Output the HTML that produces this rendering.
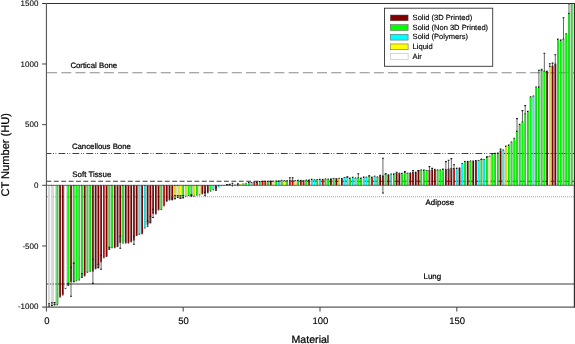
<!DOCTYPE html>
<html><head><meta charset="utf-8"><title>CT Number by Material</title>
<style>
html,body{margin:0;padding:0;background:#fff;}
body{width:575px;height:344px;overflow:hidden;}
svg{display:block;text-rendering:geometricPrecision;}
</style></head><body>
<svg width="575" height="344" viewBox="0 0 575 344">
<defs><clipPath id="pc"><rect x="46.4" y="3.4" width="528.1" height="303.4"/></clipPath></defs>
<line x1="47.1" y1="72.75" x2="574.5" y2="72.75" stroke="#8a8a8a" stroke-width="1.1" stroke-dasharray="10 4.206"/>
<line x1="47" y1="153.55" x2="574.5" y2="153.55" stroke="#404040" stroke-width="1.1" stroke-dasharray="6.8 1.8 0.8 1.5 0.8 2.2" stroke-dashoffset="2.4"/>
<line x1="46.4" y1="181.3" x2="574.5" y2="181.3" stroke="#383838" stroke-width="1.1" stroke-dasharray="4.9 2.5"/>
<line x1="47" y1="196.8" x2="574.5" y2="196.8" stroke="#a0a0a0" stroke-width="1" stroke-dasharray="1 1"/>
<line x1="47" y1="284" x2="574.5" y2="284" stroke="#7c7c7c" stroke-width="1.3"/>
<g clip-path="url(#pc)" stroke="#000" stroke-width="0.15">
<rect x="48.34" y="185.3" width="1.6" height="120.9" fill="#ffffff"/>
<rect x="51.07" y="185.3" width="1.6" height="120.2" fill="#ffffff"/>
<rect x="53.81" y="185.3" width="1.6" height="119.2" fill="#ffffff"/>
<rect x="56.54" y="185.3" width="1.6" height="119.2" fill="#00ff00"/>
<rect x="59.28" y="185.3" width="1.6" height="111.5" fill="#800000"/>
<rect x="62.02" y="185.3" width="1.6" height="109.4" fill="#800000"/>
<rect x="64.75" y="185.3" width="1.6" height="102.8" fill="#ffffff"/>
<rect x="67.49" y="185.3" width="1.6" height="99" fill="#00ff00"/>
<rect x="70.22" y="185.3" width="1.6" height="96.1" fill="#800000"/>
<rect x="72.96" y="185.3" width="1.6" height="95.9" fill="#00ff00"/>
<rect x="75.7" y="185.3" width="1.6" height="95.2" fill="#00ff00"/>
<rect x="78.43" y="185.3" width="1.6" height="94.4" fill="#00ff00"/>
<rect x="81.17" y="185.3" width="1.6" height="91.4" fill="#00ff00"/>
<rect x="83.9" y="185.3" width="1.6" height="90.3" fill="#800000"/>
<rect x="86.64" y="185.3" width="1.6" height="86.7" fill="#00ff00"/>
<rect x="89.38" y="185.3" width="1.6" height="85.6" fill="#00ff00"/>
<rect x="92.11" y="185.3" width="1.6" height="85.6" fill="#800000"/>
<rect x="94.85" y="185.3" width="1.6" height="83.3" fill="#800000"/>
<rect x="97.58" y="185.3" width="1.6" height="82.1" fill="#800000"/>
<rect x="100.32" y="185.3" width="1.6" height="76.2" fill="#800000"/>
<rect x="103.06" y="185.3" width="1.6" height="72.2" fill="#e00000"/>
<rect x="105.79" y="185.3" width="1.6" height="70.9" fill="#800000"/>
<rect x="108.53" y="185.3" width="1.6" height="63.3" fill="#00ff00"/>
<rect x="111.26" y="185.3" width="1.6" height="62.1" fill="#00ff00"/>
<rect x="114" y="185.3" width="1.6" height="62.1" fill="#800000"/>
<rect x="116.74" y="185.3" width="1.6" height="61" fill="#800000"/>
<rect x="119.47" y="185.3" width="1.6" height="56.9" fill="#800000"/>
<rect x="122.21" y="185.3" width="1.6" height="57.5" fill="#00ff00"/>
<rect x="124.94" y="185.3" width="1.6" height="57.5" fill="#800000"/>
<rect x="127.68" y="185.3" width="1.6" height="57.5" fill="#800000"/>
<rect x="130.42" y="185.3" width="1.6" height="56.3" fill="#800000"/>
<rect x="133.15" y="185.3" width="1.6" height="54.6" fill="#800000"/>
<rect x="135.89" y="185.3" width="1.6" height="49.9" fill="#800000"/>
<rect x="138.62" y="185.3" width="1.6" height="48.7" fill="#00ffff"/>
<rect x="141.36" y="185.3" width="1.6" height="48.2" fill="#800000"/>
<rect x="144.1" y="185.3" width="1.6" height="42.4" fill="#00ffff"/>
<rect x="146.83" y="185.3" width="1.6" height="38.9" fill="#800000"/>
<rect x="149.57" y="185.3" width="1.6" height="37.1" fill="#800000"/>
<rect x="152.3" y="185.3" width="1.6" height="27.8" fill="#800000"/>
<rect x="155.04" y="185.3" width="1.6" height="28.4" fill="#800000"/>
<rect x="157.78" y="185.3" width="1.6" height="24.4" fill="#800000"/>
<rect x="160.51" y="185.3" width="1.6" height="23.9" fill="#00ff00"/>
<rect x="163.25" y="185.3" width="1.6" height="20.2" fill="#e00000"/>
<rect x="165.98" y="185.3" width="1.6" height="15.7" fill="#800000"/>
<rect x="168.72" y="185.3" width="1.6" height="14.4" fill="#800000"/>
<rect x="171.46" y="185.3" width="1.6" height="14" fill="#800000"/>
<rect x="174.19" y="185.3" width="1.6" height="13.1" fill="#ffff00"/>
<rect x="176.93" y="185.3" width="1.6" height="11.8" fill="#ffff00"/>
<rect x="179.66" y="185.3" width="1.6" height="12.7" fill="#ffff00"/>
<rect x="182.4" y="185.3" width="1.6" height="12.2" fill="#00ff00"/>
<rect x="185.14" y="185.3" width="1.6" height="10.5" fill="#ffff00"/>
<rect x="187.87" y="185.3" width="1.6" height="10" fill="#00ff00"/>
<rect x="190.61" y="185.3" width="1.6" height="10.5" fill="#00ff00"/>
<rect x="193.34" y="185.3" width="1.6" height="10.5" fill="#ffff00"/>
<rect x="196.08" y="185.3" width="1.6" height="9.6" fill="#00ff00"/>
<rect x="198.82" y="185.3" width="1.6" height="9.4" fill="#ffff00"/>
<rect x="201.55" y="185.3" width="1.6" height="8.3" fill="#800000"/>
<rect x="204.29" y="185.3" width="1.6" height="8.3" fill="#800000"/>
<rect x="207.02" y="185.3" width="1.6" height="7.3" fill="#800000"/>
<rect x="209.76" y="185.3" width="1.6" height="5.5" fill="#00ff00"/>
<rect x="212.5" y="185.3" width="1.6" height="4.1" fill="#00ffff"/>
<rect x="215.23" y="185.3" width="1.6" height="4.2" fill="#800000"/>
<rect x="217.97" y="185.3" width="1.6" height="1.9" fill="#00ffff"/>
<rect x="220.7" y="185.3" width="1.6" height="0.7" fill="#00ffff"/>
<rect x="223.44" y="185.3" width="1.6" height="0.5" fill="#800000"/>
<rect x="226.18" y="184.9" width="1.6" height="0.4" fill="#00ff00"/>
<rect x="228.91" y="184.8" width="1.6" height="0.5" fill="#800000"/>
<rect x="231.65" y="185.2" width="1.6" height="0.3" fill="#800000"/>
<rect x="234.38" y="184.6" width="1.6" height="0.7" fill="#ffff00"/>
<rect x="237.12" y="184.5" width="1.6" height="0.8" fill="#800000"/>
<rect x="239.86" y="184.3" width="1.6" height="1" fill="#ffff00"/>
<rect x="242.59" y="183.7" width="1.6" height="1.6" fill="#00ff00"/>
<rect x="245.33" y="183" width="1.6" height="2.3" fill="#00ff00"/>
<rect x="248.06" y="182.7" width="1.6" height="2.6" fill="#00ff00"/>
<rect x="250.8" y="182.8" width="1.6" height="2.5" fill="#00ffff"/>
<rect x="253.54" y="182.4" width="1.6" height="2.9" fill="#e00000"/>
<rect x="256.27" y="182.1" width="1.6" height="3.2" fill="#e00000"/>
<rect x="259.01" y="181.8" width="1.6" height="3.5" fill="#00ff00"/>
<rect x="261.74" y="181.8" width="1.6" height="3.5" fill="#e00000"/>
<rect x="264.48" y="181.5" width="1.6" height="3.8" fill="#e00000"/>
<rect x="267.22" y="181.5" width="1.6" height="3.8" fill="#00ff00"/>
<rect x="269.95" y="181.5" width="1.6" height="3.8" fill="#800000"/>
<rect x="272.69" y="181.5" width="1.6" height="3.8" fill="#ffff00"/>
<rect x="275.42" y="181.2" width="1.6" height="4.1" fill="#00ff00"/>
<rect x="278.16" y="181.2" width="1.6" height="4.1" fill="#00ffff"/>
<rect x="280.9" y="180.6" width="1.6" height="4.7" fill="#00ff00"/>
<rect x="283.63" y="181" width="1.6" height="4.3" fill="#ffff00"/>
<rect x="286.37" y="181" width="1.6" height="4.3" fill="#00ff00"/>
<rect x="289.1" y="180.7" width="1.6" height="4.6" fill="#e00000"/>
<rect x="291.84" y="180.7" width="1.6" height="4.6" fill="#e00000"/>
<rect x="294.58" y="181" width="1.6" height="4.3" fill="#ffff00"/>
<rect x="297.31" y="180.5" width="1.6" height="4.8" fill="#00ff00"/>
<rect x="300.05" y="180.7" width="1.6" height="4.6" fill="#e00000"/>
<rect x="302.78" y="180.9" width="1.6" height="4.4" fill="#e00000"/>
<rect x="305.52" y="180.3" width="1.6" height="5" fill="#00ff00"/>
<rect x="308.26" y="180.1" width="1.6" height="5.2" fill="#e00000"/>
<rect x="310.99" y="179.5" width="1.6" height="5.8" fill="#00ffff"/>
<rect x="313.73" y="180" width="1.6" height="5.3" fill="#00ffff"/>
<rect x="316.46" y="179.8" width="1.6" height="5.5" fill="#00ff00"/>
<rect x="319.2" y="179.4" width="1.6" height="5.9" fill="#00ffff"/>
<rect x="321.94" y="179.7" width="1.6" height="5.6" fill="#e00000"/>
<rect x="324.67" y="179.1" width="1.6" height="6.2" fill="#00ff00"/>
<rect x="327.41" y="179.3" width="1.6" height="6" fill="#00ff00"/>
<rect x="330.14" y="179" width="1.6" height="6.3" fill="#800000"/>
<rect x="332.88" y="178.7" width="1.6" height="6.6" fill="#00ff00"/>
<rect x="335.62" y="178.9" width="1.6" height="6.4" fill="#800000"/>
<rect x="338.35" y="178.6" width="1.6" height="6.7" fill="#ffff00"/>
<rect x="341.09" y="178.8" width="1.6" height="6.5" fill="#800000"/>
<rect x="343.82" y="177.8" width="1.6" height="7.5" fill="#00ffff"/>
<rect x="346.56" y="177.5" width="1.6" height="7.8" fill="#00ffff"/>
<rect x="349.3" y="178.3" width="1.6" height="7" fill="#00ff00"/>
<rect x="352.03" y="177.5" width="1.6" height="7.8" fill="#00ffff"/>
<rect x="354.77" y="178.2" width="1.6" height="7.1" fill="#00ffff"/>
<rect x="357.5" y="178" width="1.6" height="7.3" fill="#00ff00"/>
<rect x="360.24" y="178.2" width="1.6" height="7.1" fill="#00ff00"/>
<rect x="362.98" y="177.1" width="1.6" height="8.2" fill="#00ffff"/>
<rect x="365.71" y="177.4" width="1.6" height="7.9" fill="#00ffff"/>
<rect x="368.45" y="176.4" width="1.6" height="8.9" fill="#00ff00"/>
<rect x="371.18" y="177.4" width="1.6" height="7.9" fill="#e00000"/>
<rect x="373.92" y="176.4" width="1.6" height="8.9" fill="#00ffff"/>
<rect x="376.66" y="177.1" width="1.6" height="8.2" fill="#00ff00"/>
<rect x="379.39" y="176.3" width="1.6" height="9" fill="#800000"/>
<rect x="382.13" y="176" width="1.6" height="9.3" fill="#800000"/>
<rect x="384.86" y="174.2" width="1.6" height="11.1" fill="#00ff00"/>
<rect x="387.6" y="175" width="1.6" height="10.3" fill="#800000"/>
<rect x="390.34" y="174.2" width="1.6" height="11.1" fill="#00ffff"/>
<rect x="393.07" y="174" width="1.6" height="11.3" fill="#00ff00"/>
<rect x="395.81" y="173.6" width="1.6" height="11.7" fill="#800000"/>
<rect x="398.54" y="173.4" width="1.6" height="11.9" fill="#800000"/>
<rect x="401.28" y="173.6" width="1.6" height="11.7" fill="#00ff00"/>
<rect x="404.02" y="172.7" width="1.6" height="12.6" fill="#00ff00"/>
<rect x="406.75" y="173.4" width="1.6" height="11.9" fill="#00ff00"/>
<rect x="409.49" y="173.1" width="1.6" height="12.2" fill="#800000"/>
<rect x="412.22" y="172.6" width="1.6" height="12.7" fill="#800000"/>
<rect x="414.96" y="172.4" width="1.6" height="12.9" fill="#800000"/>
<rect x="417.7" y="170.8" width="1.6" height="14.5" fill="#800000"/>
<rect x="420.43" y="170.1" width="1.6" height="15.2" fill="#00ff00"/>
<rect x="423.17" y="170.1" width="1.6" height="15.2" fill="#00ff00"/>
<rect x="425.9" y="170.8" width="1.6" height="14.5" fill="#00ff00"/>
<rect x="428.64" y="170.8" width="1.6" height="14.5" fill="#e00000"/>
<rect x="431.38" y="170.1" width="1.6" height="15.2" fill="#800000"/>
<rect x="434.11" y="169.6" width="1.6" height="15.7" fill="#800000"/>
<rect x="436.85" y="170.1" width="1.6" height="15.2" fill="#00ff00"/>
<rect x="439.58" y="170.1" width="1.6" height="15.2" fill="#00ff00"/>
<rect x="442.32" y="169.2" width="1.6" height="16.1" fill="#00ff00"/>
<rect x="445.06" y="169.8" width="1.6" height="15.5" fill="#800000"/>
<rect x="447.79" y="169.2" width="1.6" height="16.1" fill="#800000"/>
<rect x="450.53" y="168.6" width="1.6" height="16.7" fill="#800000"/>
<rect x="453.26" y="168.8" width="1.6" height="16.5" fill="#e00000"/>
<rect x="456" y="168.4" width="1.6" height="16.9" fill="#00ffff"/>
<rect x="458.74" y="168.1" width="1.6" height="17.2" fill="#800000"/>
<rect x="461.47" y="163.9" width="1.6" height="21.4" fill="#00ffff"/>
<rect x="464.21" y="161.7" width="1.6" height="23.6" fill="#00ff00"/>
<rect x="466.94" y="161.7" width="1.6" height="23.6" fill="#800000"/>
<rect x="469.68" y="161.2" width="1.6" height="24.1" fill="#00ff00"/>
<rect x="472.42" y="161.1" width="1.6" height="24.2" fill="#800000"/>
<rect x="475.15" y="160.9" width="1.6" height="24.4" fill="#800000"/>
<rect x="477.89" y="160.8" width="1.6" height="24.5" fill="#00ffff"/>
<rect x="480.62" y="159.6" width="1.6" height="25.7" fill="#00ff00"/>
<rect x="483.36" y="159.9" width="1.6" height="25.4" fill="#00ffff"/>
<rect x="486.1" y="157.3" width="1.6" height="28" fill="#00ff00"/>
<rect x="488.83" y="156.5" width="1.6" height="28.8" fill="#ffff00"/>
<rect x="491.57" y="154.2" width="1.6" height="31.1" fill="#00ff00"/>
<rect x="494.3" y="153.6" width="1.6" height="31.7" fill="#00ff00"/>
<rect x="497.04" y="153.2" width="1.6" height="32.1" fill="#00ff00"/>
<rect x="499.78" y="151" width="1.6" height="34.3" fill="#800000"/>
<rect x="502.51" y="150.1" width="1.6" height="35.2" fill="#00ffff"/>
<rect x="505.25" y="146.3" width="1.6" height="39" fill="#ffff00"/>
<rect x="507.98" y="145.1" width="1.6" height="40.2" fill="#00ff00"/>
<rect x="510.72" y="142.2" width="1.6" height="43.1" fill="#00ff00"/>
<rect x="513.46" y="138.5" width="1.6" height="46.8" fill="#00ff00"/>
<rect x="516.19" y="131.4" width="1.6" height="53.9" fill="#00ff00"/>
<rect x="518.93" y="124.6" width="1.6" height="60.7" fill="#00ff00"/>
<rect x="521.66" y="122" width="1.6" height="63.3" fill="#00ff00"/>
<rect x="524.4" y="114" width="1.6" height="71.3" fill="#00ff00"/>
<rect x="527.14" y="111.5" width="1.6" height="73.8" fill="#00ff00"/>
<rect x="529.87" y="97" width="1.6" height="88.3" fill="#00ff00"/>
<rect x="532.61" y="96.2" width="1.6" height="89.1" fill="#00ffff"/>
<rect x="535.34" y="87.1" width="1.6" height="98.2" fill="#00ff00"/>
<rect x="538.08" y="87.1" width="1.6" height="98.2" fill="#00ff00"/>
<rect x="540.82" y="70.7" width="1.6" height="114.6" fill="#00ff00"/>
<rect x="543.55" y="71.4" width="1.6" height="113.9" fill="#00ff00"/>
<rect x="546.29" y="71.4" width="1.6" height="113.9" fill="#800000"/>
<rect x="549.02" y="66.8" width="1.6" height="118.5" fill="#ffff00"/>
<rect x="551.76" y="66.1" width="1.6" height="119.2" fill="#800000"/>
<rect x="554.5" y="64.2" width="1.6" height="121.1" fill="#800000"/>
<rect x="557.23" y="39.3" width="1.6" height="146" fill="#00ff00"/>
<rect x="559.97" y="40.1" width="1.6" height="145.2" fill="#00ff00"/>
<rect x="562.7" y="39.3" width="1.6" height="146" fill="#00ff00"/>
<rect x="565.44" y="34" width="1.6" height="151.3" fill="#00ff00"/>
<rect x="568.18" y="13.7" width="1.6" height="171.6" fill="#00ff00"/>
<rect x="570.91" y="-5" width="1.6" height="190.3" fill="#00ff00"/>
</g>
<path clip-path="url(#pc)" d="M48.39 306.55h1.5M51.12 305.85h1.5M53.86 304.85h1.5M56.59 304.85h1.5M59.33 297.15h1.5M62.07 295.05h1.5M64.8 288.45h1.5M67.54 284.65h1.5M70.27 281.75h1.5M73.01 281.55h1.5M75.75 280.85h1.5M78.48 280.05h1.5M81.22 277.05h1.5M83.95 275.95h1.5M86.69 272.35h1.5M89.43 271.25h1.5M92.16 271.25h1.5M94.9 268.95h1.5M97.63 267.75h1.5M100.37 261.85h1.5M103.11 257.85h1.5M105.84 256.55h1.5M108.58 248.95h1.5M111.31 247.75h1.5M114.05 247.75h1.5M116.79 246.65h1.5M119.52 242.55h1.5M122.26 243.15h1.5M124.99 243.15h1.5M127.73 243.15h1.5M130.47 241.95h1.5M133.2 240.25h1.5M135.94 235.55h1.5M138.67 234.35h1.5M141.41 233.85h1.5M144.15 228.05h1.5M146.88 224.55h1.5M149.62 222.75h1.5M152.35 213.45h1.5M155.09 214.05h1.5M157.83 210.05h1.5M160.56 209.55h1.5M163.3 205.85h1.5M166.03 201.35h1.5M168.77 200.05h1.5M171.51 199.65h1.5M174.24 198.75h1.5M176.98 197.45h1.5M179.71 198.35h1.5M182.45 197.85h1.5M185.19 196.15h1.5M187.92 195.65h1.5M190.66 196.15h1.5M193.39 196.15h1.5M196.13 195.25h1.5M198.87 195.05h1.5M201.6 193.95h1.5M204.34 193.95h1.5M207.07 192.95h1.5M209.81 191.15h1.5M212.55 189.75h1.5M215.28 189.85h1.5M248.11 182.35h1.5M250.85 182.45h1.5M253.59 182.05h1.5M256.32 181.75h1.5M259.06 181.45h1.5M261.79 181.45h1.5M264.53 181.15h1.5M267.27 181.15h1.5M270 181.15h1.5M272.74 181.15h1.5M275.47 180.85h1.5M278.21 180.85h1.5M280.95 180.25h1.5M283.68 180.65h1.5M286.42 180.65h1.5M289.15 180.35h1.5M291.89 180.35h1.5M294.63 180.65h1.5M297.36 180.15h1.5M300.1 180.35h1.5M302.83 180.55h1.5M305.57 179.95h1.5M308.31 179.75h1.5M311.04 179.15h1.5M313.78 179.65h1.5M316.51 179.45h1.5M319.25 179.05h1.5M321.99 179.35h1.5M324.72 178.75h1.5M327.46 178.95h1.5M330.19 178.65h1.5M332.93 178.35h1.5M335.67 178.55h1.5M338.4 178.25h1.5M341.14 178.45h1.5M343.87 177.45h1.5M346.61 177.15h1.5M349.35 177.95h1.5M352.08 177.15h1.5M354.82 177.85h1.5M357.55 177.65h1.5M360.29 177.85h1.5M363.03 176.75h1.5M365.76 177.05h1.5M368.5 176.05h1.5M371.23 177.05h1.5M373.97 176.05h1.5M376.71 176.75h1.5M379.44 175.95h1.5M382.18 175.65h1.5M384.91 173.85h1.5M387.65 174.65h1.5M390.39 173.85h1.5M393.12 173.65h1.5M395.86 173.25h1.5M398.59 173.05h1.5M401.33 173.25h1.5M404.07 172.35h1.5M406.8 173.05h1.5M409.54 172.75h1.5M412.27 172.25h1.5M415.01 172.05h1.5M417.75 170.45h1.5M420.48 169.75h1.5M423.22 169.75h1.5M425.95 170.45h1.5M428.69 170.45h1.5M431.43 169.75h1.5M434.16 169.25h1.5M436.9 169.75h1.5M439.63 169.75h1.5M442.37 168.85h1.5M445.11 169.45h1.5M447.84 168.85h1.5M450.58 168.25h1.5M453.31 168.45h1.5M456.05 168.05h1.5M458.79 167.75h1.5M461.52 163.55h1.5M464.26 161.35h1.5M466.99 161.35h1.5M469.73 160.85h1.5M472.47 160.75h1.5M475.2 160.55h1.5M477.94 160.45h1.5M480.67 159.25h1.5M483.41 159.55h1.5M486.15 156.95h1.5M488.88 156.15h1.5M491.62 153.85h1.5M494.35 153.25h1.5M497.09 152.85h1.5M499.83 150.65h1.5M502.56 149.75h1.5M505.3 145.95h1.5M508.03 144.75h1.5M510.77 141.85h1.5M513.51 138.15h1.5M516.24 131.05h1.5M518.98 124.25h1.5M521.71 121.65h1.5M524.45 113.65h1.5M527.19 111.15h1.5M529.92 96.65h1.5M532.66 95.85h1.5M535.39 86.75h1.5M538.13 86.75h1.5M540.87 70.35h1.5M543.6 71.05h1.5M546.34 71.05h1.5M549.07 66.45h1.5M551.81 65.75h1.5M554.55 63.85h1.5M557.28 38.95h1.5M560.02 39.75h1.5M562.75 38.95h1.5M565.49 33.65h1.5M568.23 13.35h1.5M570.96 -5.35h1.5" stroke="#000" stroke-width="0.9" stroke-opacity="0.8" fill="none"/>
<g clip-path="url(#pc)" stroke="#404040" stroke-width="0.8" fill="none">
<path d="M49.14 303.5V306.5"/>
<path d="M48.24 303.8h1.8M48.24 306.2h1.8" stroke="#1a1a1a" stroke-width="1.1"/>
<path d="M51.87 302.5V305.8"/>
<path d="M50.97 302.8h1.8M50.97 305.5h1.8" stroke="#1a1a1a" stroke-width="1.1"/>
<path d="M54.61 302.3V305"/>
<path d="M53.71 302.6h1.8M53.71 304.7h1.8" stroke="#1a1a1a" stroke-width="1.1"/>
<path d="M68.29 283V285.5"/>
<path d="M67.39 283.3h1.8M67.39 285.2h1.8" stroke="#1a1a1a" stroke-width="1.1"/>
<path d="M71.02 267V296.5"/>
<path d="M70.12 267.3h1.8M70.12 296.2h1.8" stroke="#1a1a1a" stroke-width="1.1"/>
<path d="M73.76 262.8V282"/>
<path d="M72.86 263.1h1.8M72.86 281.7h1.8" stroke="#1a1a1a" stroke-width="1.1"/>
<path d="M81.97 273.5V277.5"/>
<path d="M81.07 273.8h1.8M81.07 277.2h1.8" stroke="#1a1a1a" stroke-width="1.1"/>
<path d="M92.91 259V283.7"/>
<path d="M92.01 259.3h1.8M92.01 283.4h1.8" stroke="#1a1a1a" stroke-width="1.1"/>
<path d="M98.38 264V268"/>
<path d="M97.48 264.3h1.8M97.48 267.7h1.8" stroke="#1a1a1a" stroke-width="1.1"/>
<path d="M101.12 255V269.5"/>
<path d="M100.22 255.3h1.8M100.22 269.2h1.8" stroke="#1a1a1a" stroke-width="1.1"/>
<path d="M109.33 247V249.5"/>
<path d="M108.43 247.3h1.8M108.43 249.2h1.8" stroke="#1a1a1a" stroke-width="1.1"/>
<path d="M120.27 236V248.6"/>
<path d="M119.37 236.3h1.8M119.37 248.3h1.8" stroke="#1a1a1a" stroke-width="1.1"/>
<path d="M133.95 236V244.5"/>
<path d="M133.05 236.3h1.8M133.05 244.2h1.8" stroke="#1a1a1a" stroke-width="1.1"/>
<path d="M147.63 221V226.5"/>
<path d="M146.73 221.3h1.8M146.73 226.2h1.8" stroke="#1a1a1a" stroke-width="1.1"/>
<path d="M150.37 216V223"/>
<path d="M149.47 216.3h1.8M149.47 222.7h1.8" stroke="#1a1a1a" stroke-width="1.1"/>
<path d="M153.1 209V217.8"/>
<path d="M152.2 209.3h1.8M152.2 217.5h1.8" stroke="#1a1a1a" stroke-width="1.1"/>
<path d="M172.26 198V200"/>
<path d="M171.36 198.3h1.8M171.36 199.7h1.8" stroke="#1a1a1a" stroke-width="1.1"/>
<path d="M174.99 195.2V199"/>
<path d="M174.09 195.5h1.8M174.09 198.7h1.8" stroke="#1a1a1a" stroke-width="1.1"/>
<path d="M177.73 195.2V197.5"/>
<path d="M176.83 195.5h1.8M176.83 197.2h1.8" stroke="#1a1a1a" stroke-width="1.1"/>
<path d="M180.46 195.2V198.5"/>
<path d="M179.56 195.5h1.8M179.56 198.2h1.8" stroke="#1a1a1a" stroke-width="1.1"/>
<path d="M183.2 195.2V198"/>
<path d="M182.3 195.5h1.8M182.3 197.7h1.8" stroke="#1a1a1a" stroke-width="1.1"/>
<path d="M191.41 194.5V196.2"/>
<path d="M190.51 194.8h1.8M190.51 195.9h1.8" stroke="#1a1a1a" stroke-width="1.1"/>
<path d="M205.09 192V196"/>
<path d="M204.19 192.3h1.8M204.19 195.7h1.8" stroke="#1a1a1a" stroke-width="1.1"/>
<path d="M216.03 187V190.5"/>
<path d="M215.13 187.3h1.8M215.13 190.2h1.8" stroke="#1a1a1a" stroke-width="1.1"/>
<path d="M226.98 184.3V185.3"/>
<path d="M226.08 184.6h1.8" stroke="#1a1a1a" stroke-width="1.1"/>
<path d="M229.71 184.1V185.3"/>
<path d="M228.81 184.4h1.8" stroke="#1a1a1a" stroke-width="1.1"/>
<path d="M232.45 183V186.8"/>
<path d="M231.55 183.3h1.8" stroke="#1a1a1a" stroke-width="1.1"/>
<path d="M237.92 183.5V186.2"/>
<path d="M237.02 183.8h1.8" stroke="#1a1a1a" stroke-width="1.1"/>
<path d="M289.9 177.4V180.7"/>
<path d="M289 177.7h1.8" stroke="#1a1a1a" stroke-width="1.1"/>
<path d="M292.64 177.4V180.7"/>
<path d="M291.74 177.7h1.8" stroke="#1a1a1a" stroke-width="1.1"/>
<path d="M347.36 176.5V177.5"/>
<path d="M346.46 176.8h1.8" stroke="#1a1a1a" stroke-width="1.1"/>
<path d="M358.3 173.4V178"/>
<path d="M357.4 173.7h1.8" stroke="#1a1a1a" stroke-width="1.1"/>
<path d="M369.25 175.5V176.4"/>
<path d="M368.35 175.8h1.8" stroke="#1a1a1a" stroke-width="1.1"/>
<path d="M380.19 175V176.3"/>
<path d="M379.29 175.3h1.8" stroke="#1a1a1a" stroke-width="1.1"/>
<path d="M382.93 158V193.3"/>
<path d="M382.03 158.3h1.8M382.03 193h1.8" stroke="#1a1a1a" stroke-width="1.1"/>
<path d="M385.66 173.5V174.2"/>
<path d="M384.76 173.8h1.8" stroke="#1a1a1a" stroke-width="1.1"/>
<path d="M396.61 172V173.6"/>
<path d="M395.71 172.3h1.8" stroke="#1a1a1a" stroke-width="1.1"/>
<path d="M404.82 171.3V172.7"/>
<path d="M403.92 171.6h1.8" stroke="#1a1a1a" stroke-width="1.1"/>
<path d="M413.02 170.2V172.6"/>
<path d="M412.12 170.5h1.8" stroke="#1a1a1a" stroke-width="1.1"/>
<path d="M418.5 170.3V170.8"/>
<path d="M417.6 170.6h1.8" stroke="#1a1a1a" stroke-width="1.1"/>
<path d="M429.44 166.3V170.8"/>
<path d="M428.54 166.6h1.8" stroke="#1a1a1a" stroke-width="1.1"/>
<path d="M432.18 168.1V170.1"/>
<path d="M431.28 168.4h1.8" stroke="#1a1a1a" stroke-width="1.1"/>
<path d="M445.86 161.3V176"/>
<path d="M444.96 161.6h1.8" stroke="#1a1a1a" stroke-width="1.1"/>
<path d="M448.59 160V178"/>
<path d="M447.69 160.3h1.8" stroke="#1a1a1a" stroke-width="1.1"/>
<path d="M451.33 158.3V178"/>
<path d="M450.43 158.6h1.8" stroke="#1a1a1a" stroke-width="1.1"/>
<path d="M454.06 164.4V168.8"/>
<path d="M453.16 164.7h1.8" stroke="#1a1a1a" stroke-width="1.1"/>
<path d="M481.42 158.9V159.6"/>
<path d="M480.52 159.2h1.8" stroke="#1a1a1a" stroke-width="1.1"/>
<path d="M486.9 156.4V157.3"/>
<path d="M486 156.7h1.8" stroke="#1a1a1a" stroke-width="1.1"/>
<path d="M500.58 148.8V151"/>
<path d="M499.68 149.1h1.8" stroke="#1a1a1a" stroke-width="1.1"/>
<path d="M516.99 118.3V131.4"/>
<path d="M516.09 118.6h1.8" stroke="#1a1a1a" stroke-width="1.1"/>
<path d="M522.46 110.3V122"/>
<path d="M521.56 110.6h1.8" stroke="#1a1a1a" stroke-width="1.1"/>
<path d="M525.2 105.3V114"/>
<path d="M524.3 105.6h1.8" stroke="#1a1a1a" stroke-width="1.1"/>
<path d="M538.88 70V87.1"/>
<path d="M537.98 70.3h1.8" stroke="#1a1a1a" stroke-width="1.1"/>
<path d="M541.62 69V70.7"/>
<path d="M540.72 69.3h1.8" stroke="#1a1a1a" stroke-width="1.1"/>
<path d="M544.35 53V71.4"/>
<path d="M543.45 53.3h1.8" stroke="#1a1a1a" stroke-width="1.1"/>
<path d="M549.82 63.5V66.8"/>
<path d="M548.92 63.8h1.8" stroke="#1a1a1a" stroke-width="1.1"/>
<path d="M552.56 62.8V66.1"/>
<path d="M551.66 63.1h1.8" stroke="#1a1a1a" stroke-width="1.1"/>
<path d="M555.3 54.5V64.2"/>
<path d="M554.4 54.8h1.8" stroke="#1a1a1a" stroke-width="1.1"/>
<path d="M563.5 17.5V39.3"/>
<path d="M562.6 17.8h1.8" stroke="#1a1a1a" stroke-width="1.1"/>
<path d="M568.98 3.4V13.7"/>
<path d="M568.08 3.7h1.8" stroke="#1a1a1a" stroke-width="1.1"/>
</g>
<line x1="46.4" y1="185.3" x2="574.5" y2="185.3" stroke="#4a4a4a" stroke-width="0.8"/>
<g fill="none">
<path d="M42.2 3.5H575" stroke="#303030" stroke-width="1.0"/>
<path d="M42.2 307H575" stroke="#585858" stroke-width="1.25"/>
<path d="M46.45 3H46.45V311.4" stroke="#5a5a5a" stroke-width="1.15"/>
<path d="M574.4 3V307.6" stroke="#303030" stroke-width="1.2"/>
<path d="M42.2 63.97H46.4" stroke="#505050" stroke-width="1.1"/>
<path d="M42.2 124.64H46.4" stroke="#505050" stroke-width="1.1"/>
<path d="M42.2 185.3H46.4" stroke="#505050" stroke-width="1.1"/>
<path d="M42.2 245.97H46.4" stroke="#505050" stroke-width="1.1"/>
<path d="M183.2 307V311.4" stroke="#505050" stroke-width="1.1"/>
<path d="M320 307V311.4" stroke="#505050" stroke-width="1.1"/>
<path d="M456.8 307V311.4" stroke="#505050" stroke-width="1.1"/>
</g>
<g font-family="Liberation Sans, Arial, sans-serif" fill="#000" stroke="#000" stroke-width="0.22">
<text x="38.4" y="6.16" font-size="8" text-anchor="end" stroke-width="0.08">1500</text>
<text x="38.4" y="66.82" font-size="8" text-anchor="end" stroke-width="0.08">1000</text>
<text x="38.4" y="127.49" font-size="8" text-anchor="end" stroke-width="0.08">500</text>
<text x="38.4" y="188.15" font-size="8" text-anchor="end" stroke-width="0.08">0</text>
<text x="38.4" y="248.81" font-size="8" text-anchor="end" stroke-width="0.08">-500</text>
<text x="38.4" y="309.48" font-size="8" text-anchor="end" stroke-width="0.08">-1000</text>
<text x="46.8" y="324.4" font-size="9.5" text-anchor="middle" stroke-width="0.12">0</text>
<text x="183.6" y="324.4" font-size="9.5" text-anchor="middle" stroke-width="0.12">50</text>
<text x="320.4" y="324.4" font-size="9.5" text-anchor="middle" stroke-width="0.12">100</text>
<text x="457.2" y="324.4" font-size="9.5" text-anchor="middle" stroke-width="0.12">150</text>
<text x="310.4" y="342.8" font-size="10.6" text-anchor="middle">Material</text>
<text transform="translate(8.9 154.8) rotate(-90)" font-size="11.1" text-anchor="middle">CT Number (HU)</text>
<text x="70.4" y="68.2" font-size="7.8">Cortical Bone</text>
<text x="71.9" y="149" font-size="7.8">Cancellous Bone</text>
<text x="72.3" y="177" font-size="7.9">Soft Tissue</text>
<text x="425.6" y="205.4" font-size="7.9">Adipose</text>
<text x="423.6" y="279" font-size="7.9">Lung</text>
</g>
<g font-family="Liberation Sans, Arial, sans-serif" font-size="7.55" fill="#000">
<rect x="384.5" y="8.2" width="108.2" height="58.1" fill="#fff" stroke="#333" stroke-width="0.9"/>
<rect x="390.3" y="15" width="17.8" height="5.8" fill="#800000" stroke="#555" stroke-width="0.5"/>
<text x="412.6" y="20.15" stroke="#000" stroke-width="0.15">Solid (3D Printed)</text>
<rect x="390.3" y="24.65" width="17.8" height="5.8" fill="#00ff00" stroke="#555" stroke-width="0.5"/>
<text x="412.6" y="29.8" stroke="#000" stroke-width="0.15">Solid (Non 3D Printed)</text>
<rect x="390.3" y="34.3" width="17.8" height="5.8" fill="#00ffff" stroke="#555" stroke-width="0.5"/>
<text x="412.6" y="39.45" stroke="#000" stroke-width="0.15">Solid (Polymers)</text>
<rect x="390.3" y="43.95" width="17.8" height="5.8" fill="#ffff00" stroke="#555" stroke-width="0.5"/>
<text x="412.6" y="49.1" stroke="#000" stroke-width="0.15">Liquid</text>
<rect x="390.3" y="53.6" width="17.8" height="5.8" fill="#ffffff" stroke="#b0b0b0" stroke-width="0.5"/>
<text x="412.6" y="58.75" stroke="#000" stroke-width="0.15">Air</text>
</g>
</svg>
</body></html>
